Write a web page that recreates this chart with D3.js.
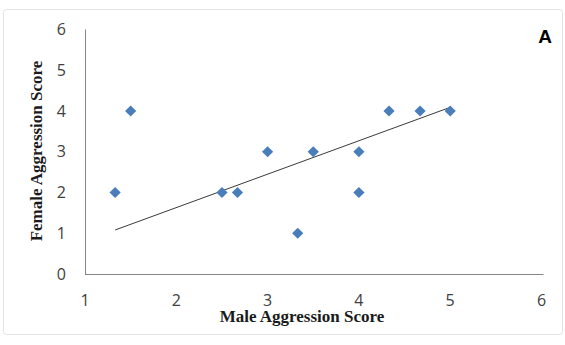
<!DOCTYPE html>
<html>
<head>
<meta charset="utf-8">
<script src="https://cdn.jsdelivr.net/npm/d3@7"></script>
<style>
  html, body { margin: 0; padding: 0; background: #fff; }
  svg { display: block; }
</style>
</head>
<body>
<svg id="chart" width="565" height="345"></svg>
<script>
// Paired aggression scores (male, female)
const maleScores   = [1.33, 1.5, 2.5, 2.67, 3, 3.33, 3.5, 4, 4, 4.33, 4.67, 5];
const femaleScores = [2, 4, 2, 2, 3, 1, 3, 3, 2, 4, 4, 4];

// Fitted trend line endpoints
const trendX = [1.33, 5];
const trendY = [1.08, 4.09];

// Axis ticks
const xTicks = [1, 2, 3, 4, 5, 6];
const yTicks = [0, 1, 2, 3, 4, 5, 6];

const svg = d3.select("#chart");

// Outer frame
svg.append("rect")
  .attr("x", 3.5).attr("y", 9.5)
  .attr("width", 559).attr("height", 325)
  .attr("rx", 3)
  .attr("fill", "#fff")
  .attr("stroke", "#e3e3e3");

const x = d3.scaleLinear().domain([1, 6]).range([85, 541.5]);
const y = d3.scaleLinear().domain([0, 6]).range([274, 29.5]);

// Axis lines
svg.append("line")
  .attr("x1", x(1) + 0.5).attr("x2", x(1) + 0.5)
  .attr("y1", y(6)).attr("y2", y(0))
  .attr("stroke", "#868686").attr("stroke-width", 1);
svg.append("line")
  .attr("x1", x(1)).attr("x2", x(6) + 2)
  .attr("y1", y(0) + 0.5).attr("y2", y(0) + 0.5)
  .attr("stroke", "#868686").attr("stroke-width", 1);

const tickFont = "'Open Sans', sans-serif";

// Y tick labels
svg.append("g").selectAll("text")
  .data(yTicks).join("text")
  .attr("x", 66)
  .attr("y", d => y(d) + 5.5)
  .attr("text-anchor", "end")
  .attr("font-family", tickFont)
  .attr("font-size", 16)
  .attr("fill", "#404040")
  .text(d => d);

// X tick labels
svg.append("g").selectAll("text")
  .data(xTicks).join("text")
  .attr("x", d => x(d))
  .attr("y", 305.5)
  .attr("text-anchor", "middle")
  .attr("font-family", tickFont)
  .attr("font-size", 16)
  .attr("fill", "#404040")
  .text(d => d);

// Trend line
svg.append("line")
  .attr("x1", x(trendX[0])).attr("y1", y(trendY[0]))
  .attr("x2", x(trendX[1])).attr("y2", y(trendY[1]))
  .attr("stroke", "#3a3a3a").attr("stroke-width", 1);

// Diamond markers
const diamond = d3.symbol().type(d3.symbolDiamond2).size(80);
svg.append("g").selectAll("path")
  .data(maleScores.map((m, i) => [m, femaleScores[i]]))
  .join("path")
  .attr("d", diamond)
  .attr("transform", d => `translate(${x(d[0])},${y(d[1])})`)
  .attr("fill", "#4a7ebb");

// Axis titles
svg.append("text")
  .attr("x", 302).attr("y", 322)
  .attr("text-anchor", "middle")
  .attr("font-family", "'Liberation Serif', 'Times New Roman', serif")
  .attr("font-weight", "bold")
  .attr("font-size", 17)
  .attr("fill", "#1a1a1a")
  .text("Male Aggression Score");

svg.append("text")
  .attr("transform", "translate(42,151) rotate(-90)")
  .attr("text-anchor", "middle")
  .attr("font-family", "'Liberation Serif', 'Times New Roman', serif")
  .attr("font-weight", "bold")
  .attr("font-size", 17)
  .attr("fill", "#1a1a1a")
  .text("Female Aggression Score");

// Panel letter
svg.append("text")
  .attr("x", 545).attr("y", 43)
  .attr("text-anchor", "middle")
  .attr("font-family", "'Liberation Sans', Arial, sans-serif")
  .attr("font-weight", "bold")
  .attr("font-size", 19)
  .attr("fill", "#000")
  .text("A");
</script>
</body>
</html>
